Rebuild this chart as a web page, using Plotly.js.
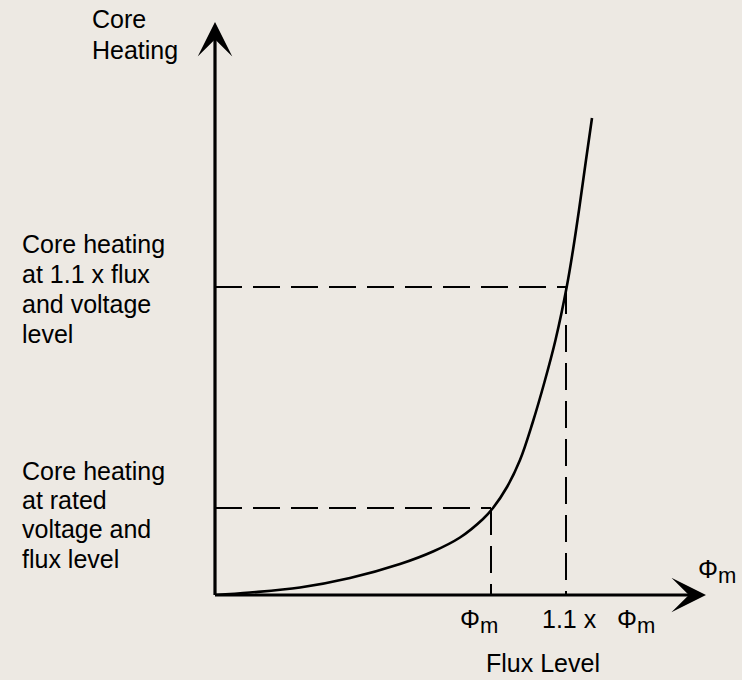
<!DOCTYPE html>
<html>
<head>
<meta charset="utf-8">
<script src="https://cdn.plot.ly/plotly-3.0.1.min.js"></script>
<style>html,body{margin:0;padding:0;background:#ede9e3;}</style>
</head>
<body>
<div id="chart" style="width:742px;height:680px;"></div>
<script>
// Curve (flux level vs core heating, arbitrary units)
const curveFlux = [0, 35, 85, 135, 185, 218, 245, 268, 278, 292, 305, 317.5, 329.5, 340.5, 351.7, 358, 364, 371, 377];
const curveHeat = [0, 2.5, 7.5, 17, 31, 43.5, 57.5, 76, 87, 108, 135, 172, 213, 255, 308, 345, 385, 435, 477];
// Rated flux and 1.1 x rated flux, with their core heating levels
const markFlux = [276, 351];
const markHeat = [87, 308];
const tickLabels = ['Φ<sub><span style="font-size:22px">m</span></sub>', '1.1 x&nbsp;&nbsp;&nbsp;Φ<sub><span style="font-size:22px">m</span></sub>'];
const highNote = ['Core heating', 'at 1.1 x flux', 'and voltage', 'level'];
const lowNote = ['Core heating', 'at rated', 'voltage and', 'flux level'];
const yTitleLines = ['Core', 'Heating'];
const xTitle = 'Flux Level';
const xArrowLabel = 'Φ<sub><span style="font-size:22px">m</span></sub>';

const XR = [0, 500], YR = [0, 575];
const FONT = {family: 'Liberation Sans, Arial, sans-serif', size: 25, color: '#000'};
const DASH = '27px,11px';

const traces = [];
traces.push({
  x: curveFlux, y: curveHeat, type: 'scatter', mode: 'lines',
  line: {color: '#000', width: 2.6, shape: 'spline', smoothing: 1},
  hoverinfo: 'skip', showlegend: false
});
for (let i = 0; i < markFlux.length; i++) {
  traces.push({
    x: [0, markFlux[i]], y: [markHeat[i], markHeat[i]], type: 'scatter', mode: 'lines',
    line: {color: '#000', width: 2, dash: DASH}, hoverinfo: 'skip', showlegend: false
  });
  traces.push({
    x: [markFlux[i], markFlux[i]], y: [markHeat[i], 0], type: 'scatter', mode: 'lines',
    line: {color: '#000', width: 2, dash: DASH}, hoverinfo: 'skip', showlegend: false
  });
}

const ann = [];
// axes with arrows
ann.push({x: 0, y: 573, ax: 0, ay: -1.5, axref: 'x', ayref: 'y', xref: 'x', yref: 'y', text: '',
  showarrow: true, arrowhead: 3, arrowwidth: 3.2, arrowsize: 1.8, arrowcolor: '#000', standoff: 0});
ann.push({x: 491, y: 0, ax: -1.5, ay: 0, axref: 'x', ayref: 'y', xref: 'x', yref: 'y', text: '',
  showarrow: true, arrowhead: 3, arrowwidth: 3.2, arrowsize: 1.8, arrowcolor: '#000', standoff: 0});

function txt(text, x, y, xanchor) {
  ann.push({x: x / XR[1], y: y / YR[1], xref: 'paper', yref: 'paper', text: text, showarrow: false,
    xanchor: xanchor || 'left', yanchor: 'middle', font: FONT, align: 'left'});
}
const yTop = [576, 545.5];
yTitleLines.forEach((t, i) => txt(t, -125, yTop[i]));
const highY = [351, 321, 291, 261.5];
highNote.forEach((t, i) => txt(t, -195, highY[i]));
const lowY = [124, 95, 66, 36];
lowNote.forEach((t, i) => txt(t, -195, lowY[i]));
txt(tickLabels[0], 243, -26);
txt(tickLabels[1], 325, -26);
txt(xTitle, 328, -68, 'center');
txt(xArrowLabel, 481, 24);

const layout = {
  width: 742, height: 680, autosize: false,
  margin: {l: 215, r: 27, t: 20, b: 85, pad: 0},
  paper_bgcolor: '#ede9e3', plot_bgcolor: '#ede9e3',
  xaxis: {range: XR, visible: false, fixedrange: true},
  yaxis: {range: YR, visible: false, fixedrange: true},
  annotations: ann, showlegend: false, font: FONT
};
Plotly.newPlot('chart', traces, layout, {displayModeBar: false, staticPlot: true});
</script>
</body>
</html>
